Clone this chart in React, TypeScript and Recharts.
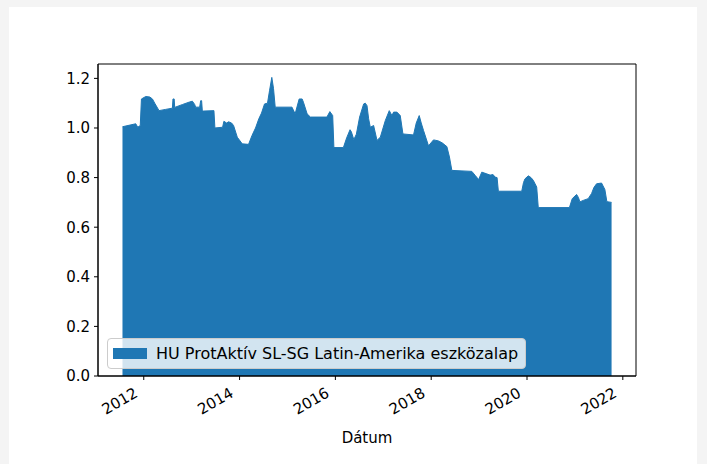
import React from "react";
import {
  AreaChart,
  Area,
  XAxis,
  YAxis,
  ReferenceArea,
  Legend,
} from "recharts";

// decimal years
const dates: number[] = [
  2011.556, 2011.833, 2011.875, 2011.927, 2011.952, 2012.042, 2012.125, 2012.181,
  2012.229, 2012.319, 2012.458, 2012.598, 2012.61, 2012.635, 2012.646, 2012.813,
  2012.958, 2013.015, 2013.063, 2013.083, 2013.167, 2013.188, 2013.208, 2013.223,
  2013.465, 2013.485, 2013.646, 2013.673, 2013.729, 2013.771, 2013.833, 2013.875,
  2013.952, 2014.056, 2014.188, 2014.26, 2014.333, 2014.402, 2014.458, 2014.521,
  2014.583, 2014.625, 2014.673, 2014.708, 2014.744, 2015.094, 2015.16, 2015.244,
  2015.306, 2015.333, 2015.41, 2015.479, 2015.823, 2015.885, 2015.944, 2015.969,
  2016.167, 2016.235, 2016.306, 2016.333, 2016.385, 2016.438, 2016.506, 2016.59,
  2016.625, 2016.66, 2016.694, 2016.729, 2016.798, 2016.869, 2016.938, 2017.042,
  2017.125, 2017.181, 2017.215, 2017.285, 2017.354, 2017.41, 2017.631, 2017.688,
  2017.75, 2017.792, 2017.84, 2017.944, 2018.048, 2018.152, 2018.229, 2018.327,
  2018.381, 2018.431, 2018.848, 2018.917, 2018.99, 2019.056, 2019.16, 2019.229,
  2019.292, 2019.333, 2019.375, 2019.402, 2019.89, 2019.927, 2019.958, 2020.027,
  2020.083, 2020.131, 2020.202, 2020.235, 2020.885, 2020.944, 2021.035, 2021.073,
  2021.104, 2021.173, 2021.277, 2021.348, 2021.396, 2021.452, 2021.556, 2021.625,
  2021.667, 2021.765,
];

const values: number[] = [
  1.005, 1.017, 1.003, 1.01, 1.117, 1.127, 1.125, 1.117,
  1.1, 1.07, 1.075, 1.08, 1.117, 1.117, 1.083, 1.095,
  1.105, 1.108, 1.095, 1.084, 1.084, 1.11, 1.11, 1.068,
  1.07, 1.0, 1.003, 1.027, 1.02, 1.025, 1.02, 1.01,
  0.963, 0.936, 0.934, 0.97, 1.0, 1.037, 1.06, 1.097,
  1.1, 1.15, 1.204, 1.16, 1.084, 1.084, 1.057, 1.117,
  1.117, 1.104, 1.057, 1.044, 1.044, 1.066, 1.05, 0.921,
  0.921, 0.96, 0.993, 0.985, 0.953, 0.975, 1.044, 1.097,
  1.1, 1.09, 1.037, 1.003, 1.01, 0.95, 0.963, 1.03,
  1.07, 1.05, 1.064, 1.064, 1.05, 0.976, 0.972, 1.02,
  1.05, 1.02, 0.99, 0.928, 0.952, 0.948, 0.94, 0.925,
  0.883, 0.829, 0.825, 0.809, 0.792, 0.822, 0.815, 0.81,
  0.812, 0.802, 0.8, 0.745, 0.745, 0.78, 0.795, 0.807,
  0.8, 0.789, 0.762, 0.679, 0.679, 0.715, 0.732, 0.72,
  0.702, 0.708, 0.715, 0.736, 0.76, 0.775, 0.778, 0.752,
  0.703, 0.7,
];

const seriesName = "HU ProtAktív SL-SG Latin-Amerika eszközalap";
const xTicks: number[] = [2012, 2014, 2016, 2018, 2020, 2022];
const yTicks: number[] = [0, 0.2, 0.4, 0.6, 0.8, 1.0, 1.2];
const xLabel = "Dátum";

const X_MIN = 2011.045;
const X_MAX = 2022.275;
const Y_MAX = 1.258;

const data = dates.map((t, i) => ({ t, v: values[i] }));

const FONT = "'DejaVu Sans', sans-serif";
const FS = 15;
const LFS = 16;
const BLUE = "#1f77b4";

const XTick = (props: any) => {
  const { x, y, payload } = props;
  return (
    <g transform={`translate(${x - 5},${y + 14})`}>
      <text
        x={0}
        y={0}
        transform="rotate(-30)"
        textAnchor="end"
        fontFamily={FONT}
        fontSize={FS}
        fill="#000"
      >
        {payload.value}
      </text>
    </g>
  );
};

const LegendContent = () => (
  <div
    style={{
      boxSizing: "border-box",
      width: 419,
      height: 31,
      background: "rgba(255,255,255,0.8)",
      border: "1px solid #cccccc",
      borderRadius: 4,
      display: "flex",
      alignItems: "center",
      fontFamily: FONT,
      fontSize: LFS,
      color: "#000",
      whiteSpace: "nowrap",
    }}
  >
    <span
      style={{
        display: "inline-block",
        width: 34,
        height: 11,
        background: BLUE,
        marginLeft: 5,
        marginRight: 9,
      }}
    />
    <span>{seriesName}</span>
  </div>
);

export default function App() {
  return (
    <div
      style={{
        position: "absolute",
        left: 0,
        top: 0,
        width: 707,
        height: 464,
        background: "#f4f4f4",
        overflow: "hidden",
      }}
    >
      <div
        style={{
          position: "absolute",
          left: 9,
          top: 7,
          width: 688,
          height: 457,
          background: "#ffffff",
        }}
      />
      <div style={{ position: "absolute", left: 0, top: 0 }}>
        <AreaChart
          width={707}
          height={464}
          data={data}
          margin={{ top: 64, right: 71, bottom: 18, left: 38 }}
        >
          <XAxis
            type="number"
            dataKey="t"
            domain={[X_MIN, X_MAX]}
            ticks={xTicks}
            allowDataOverflow
            height={70}
            tickSize={4}
            tickMargin={2}
            tick={<XTick />}
            axisLine={{ stroke: "#000", strokeWidth: 1 }}
            tickLine={{ stroke: "#000", strokeWidth: 1 }}
            label={{
              value: xLabel,
              position: "insideBottom",
              offset: 3,
              style: { fontFamily: FONT, fontSize: FS, fill: "#000" },
            }}
          />
          <YAxis
            type="number"
            domain={[0, Y_MAX]}
            ticks={yTicks}
            allowDataOverflow
            width={60}
            tickSize={4}
            tickMargin={4}
            tickFormatter={(v: number) => v.toFixed(1)}
            tick={{ fontFamily: FONT, fontSize: FS, fill: "#000" }}
            axisLine={{ stroke: "#000", strokeWidth: 1 }}
            tickLine={{ stroke: "#000", strokeWidth: 1 }}
          />
          <Area
            type="linear"
            dataKey="v"
            name={seriesName}
            fill={BLUE}
            fillOpacity={1}
            stroke={BLUE}
            strokeWidth={1}
            baseValue={0}
            isAnimationActive={false}
          />
          <ReferenceArea
            x1={X_MIN}
            x2={X_MAX}
            y1={0}
            y2={Y_MAX}
            fill="none"
            fillOpacity={0}
            stroke="#000"
            strokeWidth={1}
            ifOverflow="visible"
          />
          <Legend
            layout="horizontal"
            verticalAlign="middle"
            align="center"
            content={<LegendContent />}
            wrapperStyle={{ left: 107, top: 338, width: 419, height: 31 }}
          />
        </AreaChart>
      </div>
    </div>
  );
}
